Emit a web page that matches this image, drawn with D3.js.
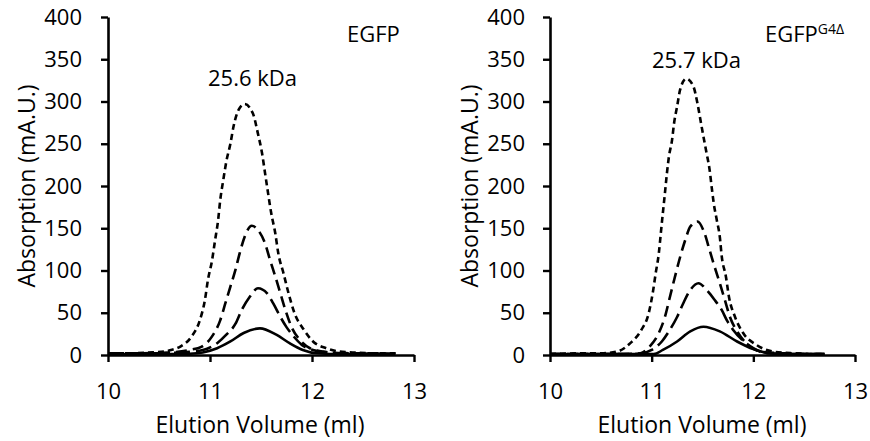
<!DOCTYPE html>
<html>
<head>
<meta charset="utf-8">
<script src="https://cdn.jsdelivr.net/npm/d3@7"></script>
<style>
  body { margin: 0; background: #fff; }
  svg { display: block; font-family: "Open Sans", sans-serif; }
</style>
</head>
<body>
<svg id="chart" width="870" height="441"></svg>
<script>
// axis ticks
const xTicks = [10, 11, 12, 13];
const yTicks = [0, 50, 100, 150, 200, 250, 300, 350, 400];

// EGFP traces, [elution volume (ml), absorption (mA.U.)]
const egfpShort = [[10.0,2],[10.2,2],[10.4,3],[10.55,4],[10.62,6],[10.71,10],[10.82,22],[10.9,41],[10.95,65],[10.98,89],[11.02,112],[11.05,136],[11.08,160],[11.1,183],[11.13,207],[11.16,229],[11.2,250],[11.23,270],[11.28,290],[11.34,297],[11.42,286],[11.47,262],[11.51,239],[11.54,215],[11.57,191],[11.6,168],[11.64,144],[11.67,120],[11.72,97],[11.77,73],[11.83,49],[11.92,30],[12.01,16],[12.14,8],[12.27,4],[12.4,3],[12.6,2],[12.85,2]];
const egfpMedium = [[10.0,2],[10.3,2],[10.6,3],[10.8,6],[10.92,10],[11.02,22],[11.1,41],[11.15,61],[11.2,81],[11.25,101],[11.29,120],[11.34,140],[11.41,153],[11.47,148],[11.54,132],[11.59,112],[11.64,93],[11.69,73],[11.74,53],[11.8,33],[11.88,18],[11.98,8],[12.11,4],[12.3,2],[12.6,2],[12.85,1]];
const egfpLong = [[10.0,2],[10.4,2],[10.7,3],[10.93,6],[11.07,14],[11.16,24],[11.25,37],[11.31,53],[11.39,69],[11.47,79],[11.56,73],[11.62,61],[11.69,45],[11.75,33],[11.82,22],[11.9,12],[12.01,6],[12.15,3],[12.4,2],[12.8,1]];
const egfpSolid = [[10.0,1],[10.5,1],[10.8,1.5],[10.93,3],[11.07,8],[11.2,16],[11.33,26],[11.49,31.5],[11.65,24],[11.78,14],[11.91,6],[12.05,2],[12.3,1],[12.8,1]];

// EGFP G4Δ traces
const g4Short = [[10.0,1],[10.3,2],[10.5,2],[10.66,4],[10.79,14],[10.9,30],[10.97,49],[11.01,73],[11.04,97],[11.07,120],[11.09,144],[11.11,168],[11.13,191],[11.15,215],[11.17,235],[11.2,254],[11.22,274],[11.25,294],[11.28,314],[11.34,327],[11.41,318],[11.45,298],[11.48,278],[11.51,258],[11.54,239],[11.57,219],[11.59,199],[11.61,180],[11.64,160],[11.67,140],[11.69,116],[11.73,93],[11.76,69],[11.82,45],[11.9,26],[12.03,12],[12.2,4],[12.4,2],[12.7,1]];
const g4Medium = [[10.0,1],[10.5,1],[10.8,1],[10.89,2],[10.98,10],[11.07,26],[11.13,45],[11.18,69],[11.23,93],[11.28,116],[11.33,136],[11.38,152],[11.45,158],[11.52,144],[11.57,124],[11.62,104],[11.67,85],[11.72,65],[11.77,45],[11.84,28],[11.93,14],[12.07,4],[12.3,2],[12.7,1]];
const g4Long = [[10.0,1],[10.6,1],[10.9,2],[11.0,6],[11.1,16],[11.18,30],[11.25,45],[11.31,61],[11.38,77],[11.46,85],[11.54,77],[11.62,65],[11.69,53],[11.74,41],[11.8,30],[11.89,18],[12.0,8],[12.13,2],[12.4,1],[12.7,1]];
const g4Solid = [[10.0,1],[10.8,1],[11.02,1],[11.11,6],[11.25,16],[11.38,28],[11.51,33.5],[11.67,28],[11.84,16],[12.0,7],[12.16,2],[12.4,1],[12.7,1]];

const dashes = { short: '6,4', medium: '11,6', long: '16,6', solid: null };

const panels = [
  { left: 108, right: 414, yTitleX: 26, xTitleX: 260, tickLabelEnd: 82,
    name: 'EGFP', sup: '', nameX: 347, mw: '25.6 kDa', mwX: 208, mwY: 86,
    traces: [[egfpShort, 'short'], [egfpMedium, 'medium'], [egfpLong, 'long'], [egfpSolid, 'solid']] },
  { left: 550, right: 855, yTitleX: 469, xTitleX: 702, tickLabelEnd: 525,
    name: 'EGFP', sup: 'G4Δ', nameX: 765, mw: '25.7 kDa', mwX: 652, mwY: 68,
    traces: [[g4Short, 'short'], [g4Medium, 'medium'], [g4Long, 'long'], [g4Solid, 'solid']] }
];

const svg = d3.select('#chart');
const plotTop = 17, plotBottom = 355;

panels.forEach(p => {
  const x = d3.scaleLinear().domain([10, 13]).range([p.left, p.right]);
  const y = d3.scaleLinear().domain([0, 400]).range([plotBottom, plotTop]);
  const g = svg.append('g');

  // curves
  const line = d3.line()
    .x(d => x(d[0]))
    .y(d => y(d[1]))
    .curve(d3.curveMonotoneX);

  p.traces.forEach(([data, style]) => {
    g.append('path')
      .datum(data)
      .attr('d', line)
      .attr('fill', 'none')
      .attr('stroke', '#000')
      .attr('stroke-width', 2.6)
      .attr('stroke-dasharray', dashes[style]);
  });

  // y axis
  const yAxis = g.append('g')
    .attr('transform', `translate(${p.left},0)`)
    .call(d3.axisLeft(y).tickValues(yTicks).tickSize(7).tickSizeOuter(0)
      .tickPadding(p.left - 7 - p.tickLabelEnd));
  // x axis
  const xAxis = g.append('g')
    .attr('transform', `translate(0,${plotBottom})`)
    .call(d3.axisBottom(x).tickValues(xTicks).tickFormat(d3.format('d'))
      .tickSize(7).tickSizeOuter(0).tickPadding(21));

  [yAxis, xAxis].forEach(ax => {
    ax.select('.domain').attr('stroke-width', 2.6);
    ax.selectAll('.tick line').attr('stroke-width', 2.4);
    ax.selectAll('.tick text')
      .attr('font-family', '"Open Sans", sans-serif')
      .attr('font-size', 22)
      .attr('fill', '#000');
  });

  // axis titles
  g.append('text')
    .attr('transform', `translate(${p.yTitleX},186) rotate(-90)`)
    .attr('text-anchor', 'middle')
    .attr('dominant-baseline', 'central')
    .attr('font-size', 23)
    .text('Absorption (mA.U.)');

  g.append('text')
    .attr('x', p.xTitleX)
    .attr('y', 433)
    .attr('text-anchor', 'middle')
    .attr('font-size', 23)
    .text('Elution Volume (ml)');

  // annotations
  const label = g.append('text')
    .attr('x', p.nameX)
    .attr('y', 42)
    .attr('font-size', 22)
    .text(p.name);
  if (p.sup) {
    label.append('tspan')
      .attr('dy', -8)
      .attr('font-size', 14)
      .text(p.sup);
  }

  g.append('text')
    .attr('x', p.mwX)
    .attr('y', p.mwY)
    .attr('font-size', 22)
    .text(p.mw);
});
</script>
</body>
</html>
